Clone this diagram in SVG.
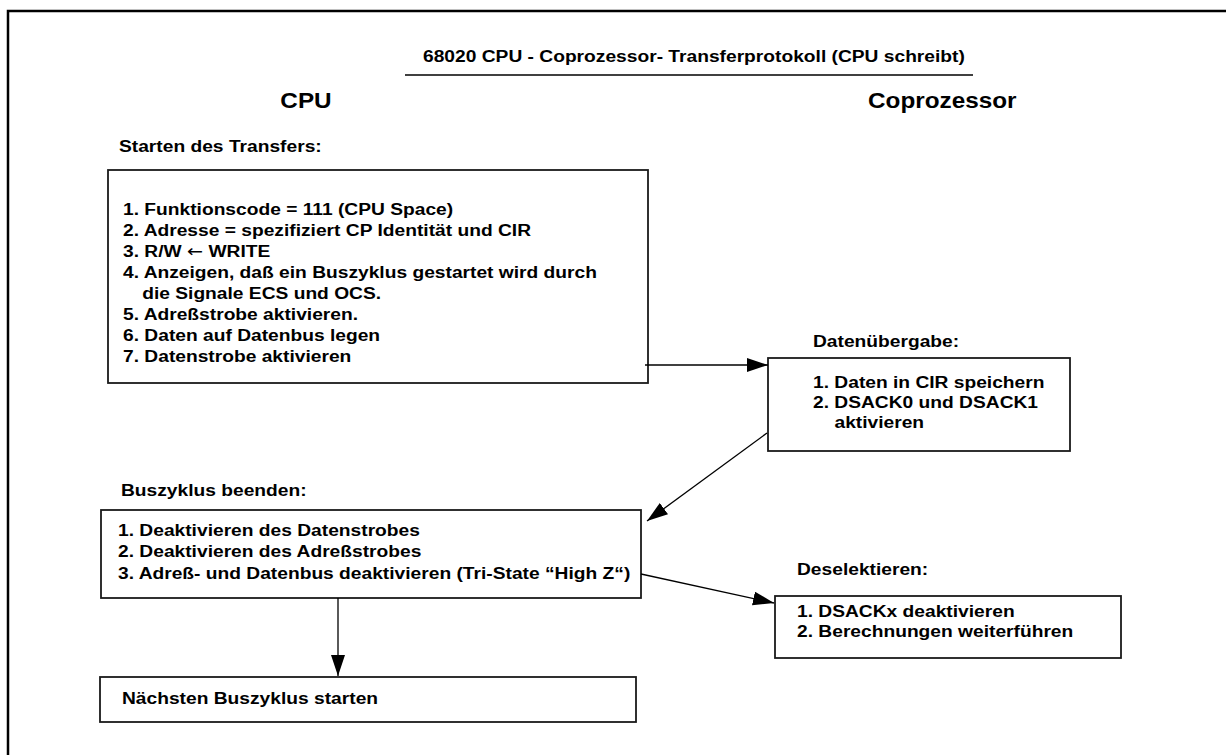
<svg xmlns="http://www.w3.org/2000/svg" width="1226" height="755" viewBox="0 0 1226 755">
<style>
.t{font-family:"Liberation Sans",Arial,Helvetica,sans-serif;font-weight:bold;font-size:17px;fill:#000}
.h{font-size:21.5px}
.ti{font-size:17px}
.ar{font-family:"DejaVu Sans",sans-serif;font-weight:normal;font-size:17px}
.box{fill:#fff;stroke:#1a1a1a;stroke-width:1.8}
.conn{stroke:#000;stroke-width:1.3;fill:none}
</style>
<defs>
<marker id="ah" markerUnits="userSpaceOnUse" markerWidth="23" markerHeight="16" refX="21" refY="7" orient="auto">
<path d="M0,0 L21,7 L0,14 z" fill="#000"/>
</marker>
</defs>
<rect x="8" y="11" width="1240" height="760" fill="none" stroke="#000" stroke-width="2.5"/>
<g id="title">
<text class="t ti" transform="translate(423,62) scale(1.13,1)">68020 CPU - Coprozessor- Transferprotokoll (CPU schreibt)</text>
<line x1="405" y1="75" x2="973" y2="75" stroke="#000" stroke-width="1.5"/>
</g>
<g id="lane-cpu"><text class="t h" text-anchor="middle" transform="translate(306,108) scale(1.13,1)">CPU</text></g>
<g id="lane-cop"><text class="t h" transform="translate(868,108) scale(1.13,1)">Coprozessor</text></g>
<g id="start">
<text class="t" transform="translate(119,152) scale(1.13,1)">Starten des Transfers:</text>
<rect class="box" x="108" y="170" width="540" height="213"/>
<text class="t" transform="translate(123,215) scale(1.13,1)"><tspan x="0" y="0">1. Funktionscode = 111 (CPU Space)</tspan><tspan x="0" y="21">2. Adresse = spezifiziert CP Identität und CIR</tspan><tspan x="0" y="42">3. R/W <tspan class="ar">←</tspan> WRITE</tspan><tspan x="0" y="63">4. Anzeigen, daß ein Buszyklus gestartet wird durch</tspan><tspan x="17" y="84">die Signale ECS und OCS.</tspan><tspan x="0" y="105">5. Adreßstrobe aktivieren.</tspan><tspan x="0" y="126">6. Daten auf Datenbus legen</tspan><tspan x="0" y="147">7. Datenstrobe aktivieren</tspan></text>
</g>
<g id="uebergabe">
<text class="t" transform="translate(813,347) scale(1.13,1)">Datenübergabe:</text>
<rect class="box" x="768" y="358" width="302" height="93"/>
<text class="t" transform="translate(813,388) scale(1.13,1)"><tspan x="0" y="0">1. Daten in CIR speichern</tspan><tspan x="0" y="20">2. DSACK0 und DSACK1</tspan><tspan x="19" y="40">aktivieren</tspan></text>
</g>
<g id="beenden">
<text class="t" transform="translate(121,496) scale(1.13,1)">Buszyklus beenden:</text>
<rect class="box" x="101" y="510" width="540" height="88"/>
<text class="t" transform="translate(118,536) scale(1.13,1)"><tspan x="0" y="0">1. Deaktivieren des Datenstrobes</tspan><tspan x="0" y="21.5">2. Deaktivieren des Adreßstrobes</tspan><tspan x="0" y="43">3. Adreß- und Datenbus deaktivieren (Tri-State “High Z“)</tspan></text>
</g>
<g id="deselekt">
<text class="t" transform="translate(797,575) scale(1.13,1)">Deselektieren:</text>
<rect class="box" x="775" y="596" width="346" height="62"/>
<text class="t" transform="translate(797,617) scale(1.13,1)"><tspan x="0" y="0">1. DSACKx deaktivieren</tspan><tspan x="0" y="20">2. Berechnungen weiterführen</tspan></text>
</g>
<g id="naechster">
<rect class="box" x="100" y="677" width="536" height="45"/>
<text class="t" transform="translate(122,704) scale(1.13,1)">Nächsten Buszyklus starten</text>
</g>
<g id="connectors">
<line class="conn" x1="645" y1="365" x2="768" y2="365" marker-end="url(#ah)"/>
<line class="conn" x1="767" y1="433" x2="647" y2="521" marker-end="url(#ah)"/>
<line class="conn" x1="641" y1="574" x2="774" y2="603" marker-end="url(#ah)"/>
<line class="conn" x1="338" y1="598" x2="338" y2="676" marker-end="url(#ah)"/>
</g>
</svg>
